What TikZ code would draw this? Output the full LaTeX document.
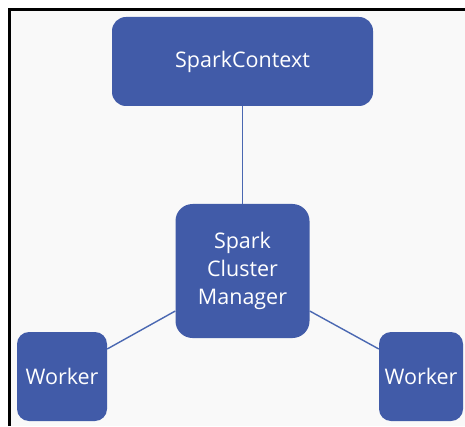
\documentclass[tikz,border=0pt]{standalone}
\usepackage{fontspec}
\setmainfont{Open Sans}
\definecolor{boxblue}{HTML}{415BA8}
\definecolor{lineblue}{HTML}{4A68B2}
\definecolor{bg}{HTML}{F9F9F9}
\begin{document}
\begin{tikzpicture}[x=1pt,y=1pt,
  box/.style={rectangle, fill=boxblue, text=white, align=center,
    font=\fontsize{21.5}{28}\selectfont, inner sep=0pt},
  link/.style={draw=lineblue, line width=1.4pt}]
\useasboundingbox (0,0) rectangle (465,426);
\fill[white] (0,0) rectangle (465,426);
\fill[bg] (9.5,0) rectangle (465,416.5);
\draw[black, line width=3pt] (9.5,0) -- (9.5,416.5) -- (465,416.5);
\node[box, minimum width=261pt, minimum height=89pt, rounded corners=14pt] (sc) at (242.5,364.5) {SparkContext};
\node[box, minimum width=134pt, minimum height=134pt, rounded corners=17pt] (cm) at (242.5,155) {Spark\\Cluster\\Manager};
\node[box, minimum width=90pt, minimum height=89pt, rounded corners=12pt] (w1) at (62,49.5) {Worker};
\node[box, minimum width=84pt, minimum height=89pt, rounded corners=12pt] (w2) at (421,49.5) {Worker};
\draw[link] (sc.south) -- (cm.north);
\draw[link] ([yshift=27.5pt]w1.east) -- ([yshift=-40pt]cm.west);
\draw[link] ([yshift=-40pt]cm.east) -- ([yshift=27.5pt]w2.west);
\end{tikzpicture}
\end{document}
